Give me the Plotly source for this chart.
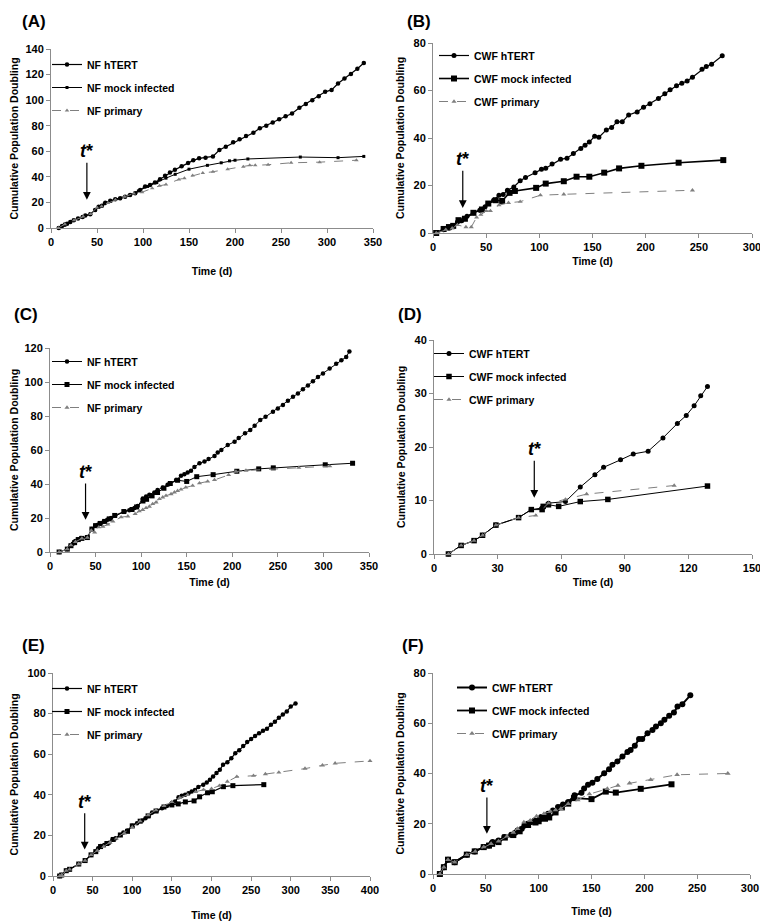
import plotly.graph_objs as go

# ---------------------------------------------------------------- data
# (A) NF
a_htert_x = [8.5, 12, 15, 17.5, 21, 24.7, 29.4, 34.4, 37.3, 42.7, 48, 51.8, 55.4, 59, 64.4, 69.8, 75.2, 80.6, 86, 91.5,
             96.9, 102.3, 107.7, 113, 118.5, 124, 129.3, 134.7, 142, 149, 154.6, 161, 168, 176, 183, 190, 198, 205, 212,
             220, 227, 234, 241, 248, 255, 262, 270, 277, 284, 291, 298, 305, 312, 319, 326, 333, 340]
a_htert_y = [0, 1.6, 2.6, 3.4, 4.7, 6, 7.4, 8.7, 9.7, 10.8, 14, 16.6, 17.4, 19.7, 21.3, 22.4, 23.2, 24.5, 25.8, 27.1,
             29.7, 32.4, 33.7, 35.5, 38.2, 40.8, 43.4, 45.5, 48.2, 50.8, 52.9, 54.5, 55, 56, 61, 63.5, 67, 69.5, 72,
             74.5, 78, 80, 82.5, 85, 87.5, 89.5, 94, 97, 100, 103, 106.5, 108, 113, 117, 120.5, 124.5, 129]
a_mock_x = [8, 15, 25, 35, 43, 48, 52, 58, 65, 75, 85, 95, 105, 115, 125, 135, 150, 170, 185, 194, 200, 214, 271, 312, 340]
a_mock_y = [0, 3, 6, 9, 11, 14, 16.5, 19, 21, 23, 25.5, 29, 32.5, 35.5, 39, 42, 46, 49, 51, 52.5, 53, 54, 55.5, 55, 56]
a_prim_x = [8, 15, 25, 35, 43, 50, 55, 62, 70, 80, 90, 99, 110, 118, 125, 139, 145, 154, 165, 176, 192, 209, 216, 222,
            236, 261, 292, 332]
a_prim_y = [0, 3, 6, 9, 11, 16, 17, 19.5, 22, 24.5, 27, 28, 31, 33, 34, 38, 39, 41, 43, 44, 46, 48, 49, 49, 49.5, 51,
            51.5, 53]

# (B) CWF
b_htert_x = [3, 10, 15, 18, 23, 27, 32, 38, 44, 49, 52, 57, 62, 66, 70, 76, 82, 87, 96, 102, 106, 112, 120, 126, 132,
             139, 143, 147, 152, 156, 163, 168, 173, 178, 184, 192, 198, 204, 212, 218, 223, 229, 234, 239, 244, 253,
             257, 262, 272]
b_htert_y = [0, 1.4, 2, 2.8, 4.6, 5.2, 7, 8.5, 9.6, 11, 12.4, 13.8, 15.9, 16.2, 18, 19.4, 22, 23.4, 25.4, 26.8, 27.3,
             29, 31, 31.5, 33.5, 35.6, 36.9, 38.3, 40.7, 40.3, 43.4, 44.4, 46.8, 46.8, 49.7, 51, 53, 54.4, 56.6, 58.6,
             60.3, 62, 63.1, 64, 65.6, 69, 70.1, 71.1, 74.6]
b_mock_x = [3, 10, 15, 19, 24, 30, 38, 46, 52, 59, 65, 72, 77, 97, 106, 123, 135, 147, 161, 175, 196, 231, 273]
b_mock_y = [0, 1.7, 2.5, 3, 5.4, 6, 8.5, 9.9, 12.4, 13.8, 13.5, 16.9, 17.7, 19, 20.8, 21.8, 23.7, 23.7, 25.4, 27.2,
            28.3, 29.6, 30.7]
b_prim_x = [3, 12, 18, 23, 31, 36, 41, 45, 50, 54, 62, 71, 82, 101, 123, 244]
b_prim_y = [0, 1.4, 2, 3.4, 2.5, 2.5, 6.6, 7.7, 9.3, 9.3, 11.7, 12.7, 13.2, 15.9, 16.3, 18]

# (C) NF
c_htert_x = [10.6, 19, 22.6, 25, 27.7, 30.7, 34, 40.9, 46, 49.6, 52.5, 55.5, 59, 62.8, 67, 71.5, 81.7, 87, 89.8, 92.7,
             96.3, 101.8, 105.4, 109, 114.5, 118, 123.7, 129, 131, 138.3, 143.7, 147.4, 151, 154.7, 158.5, 164, 169.5,
             174, 180.5, 184, 188, 195, 202.5, 207, 214, 219.7, 224.5, 230.7, 236.5, 244.6, 250, 255.6, 261, 266.6,
             272, 277.5, 283, 288.5, 294, 299.5, 306.8, 314, 319.7, 325, 328.5]
c_htert_y = [0, 1.7, 3.7, 4.9, 6.4, 7.4, 8.2, 8.8, 13.5, 15.4, 16, 16.8, 18, 18.9, 20, 21.4, 23.8, 24.6, 25.1, 25.9,
             27, 31.4, 32.6, 33.7, 35, 36.5, 38, 39.6, 40, 42.3, 44.8, 45.8, 46.8, 47.8, 50, 52.2, 53.2, 54.7, 56.5,
             58.5, 60, 62.9, 64.9, 67, 69.8, 71.7, 74.3, 77.6, 79.5, 82.5, 84.4, 86.4, 88.9, 91.3, 93.2, 95.8, 97.9,
             100.4, 103, 105, 107.9, 110.8, 112.8, 114.7, 118]
c_mock_x = [10, 19, 23, 27, 31, 35, 41, 46, 50, 55, 60, 65, 71, 81, 90, 95, 102, 106, 112, 118, 125, 132, 140, 150,
            161, 179, 205, 229, 245, 302, 332]
c_mock_y = [0, 1.7, 3.7, 5.5, 7.3, 8, 8.5, 13.5, 15.5, 16.8, 18, 19.5, 21.5, 23.8, 25, 26.5, 30, 31, 33, 35, 37.5,
            40.3, 42.2, 41.5, 44.3, 45.5, 47.5, 48.9, 49.5, 51.3, 52.2]
c_prim_x = [10, 19, 23, 28, 35, 41, 45.3, 49, 53.6, 58, 63.5, 69, 78, 85.4, 93.4, 98, 101.8, 105.4, 109, 112.7, 116.4,
            120, 123.7, 127.3, 132.8, 136.5, 140, 143.7, 149, 156.5, 164, 173, 180.5, 196, 204, 215, 273, 307]
c_prim_y = [0, 1.7, 4, 6, 8, 8.5, 12.7, 11.5, 14.6, 15, 16.2, 18, 20.5, 21, 22.4, 24, 24.8, 25.9, 26.7, 28.3, 29.2,
            31.2, 32.2, 33.1, 34.1, 35.1, 36, 36.8, 38, 39, 40.5, 41.5, 42.4, 45.3, 47.3, 47.9, 49.6, 50.5]

# (D) CWF
d_htert_x = [6.8, 12.8, 18.9, 22.9, 29.2, 39.9, 45.9, 51, 54, 62, 69, 75.9, 80, 88, 94, 101, 108, 114.8, 119, 122.7,
             125.8, 129]
d_htert_y = [0, 1.6, 2.5, 3.5, 5.4, 6.8, 8.3, 8.6, 9.5, 9.8, 12.5, 14.8, 16.2, 17.6, 18.7, 19.2, 21.7, 24.4, 25.9, 27.7,
             29.6, 31.3]
d_mock_x = [6.8, 12.8, 18.9, 22.9, 29.2, 39.9, 45.9, 51, 51.5, 54, 58.8, 69, 82, 129]
d_mock_y = [0, 1.6, 2.5, 3.5, 5.4, 6.8, 8.3, 8.3, 8.9, 9.2, 8.9, 9.8, 10.2, 12.7]
d_prim_x = [6.8, 12.8, 18.9, 22.9, 29.2, 39.9, 48, 54, 62, 72, 113.3]
d_prim_y = [0, 1.6, 2.5, 3.5, 5.4, 6.8, 7.2, 9.5, 10.2, 11.2, 12.8]

# (E) NF
e_htert_x = [8.4, 11, 16.7, 21, 32.5, 40.5, 48, 54, 57, 60.4, 64.6, 71, 75, 79, 84.6, 88.8, 94, 100, 106, 112.5, 116.7,
             121, 125, 131, 137.5, 143.8, 150, 154, 158.4, 162.5, 166.7, 171, 175, 179.2, 183.4, 189.6, 194, 198, 202,
             206.3, 210.5, 214.6, 220, 225, 230, 235, 240, 245, 250, 255, 260, 265, 270, 275, 280, 285, 290, 295, 300,
             306]
e_htert_y = [0, 0.5, 2.6, 3.3, 5.9, 7.6, 10.4, 12, 13.7, 14.8, 15.3, 16.4, 17.8, 18.6, 20.2, 21.4, 22.4, 24.7, 26, 27.3,
             28.5, 29.6, 31.3, 32.2, 33.4, 34.5, 35.9, 36.7, 38.8, 39.5, 40, 40.8, 41.6, 42.4, 43.8, 44.9, 46, 47.4, 49,
             50.7, 52.3, 54.8, 56, 58, 60.5, 62, 64, 66, 67.5, 69, 70.3, 71.5, 72.5, 74.5, 76, 78, 79.5, 81, 83.5, 85]
e_mock_x = [8.4, 11, 16.7, 21, 32.5, 40.5, 48, 54, 60, 68, 76, 85, 94, 100, 110, 120, 130, 140, 150, 158, 167, 178,
            185, 195, 201, 215, 227, 266]
e_mock_y = [0, 0.5, 2.6, 3.3, 5.9, 7.6, 10.4, 12, 14.5, 16, 18, 20.2, 22, 24.7, 27, 29.6, 32, 34, 35, 35.5, 36.5, 37,
            39, 41, 41.5, 44, 44.5, 45]
e_prim_x = [8.4, 11, 16.7, 21, 32.5, 40.5, 48, 56, 64, 72, 80, 90, 100, 110, 120, 130, 140, 150, 160, 170, 180, 190,
            200, 210, 220, 232, 253, 268, 285, 318, 340, 356, 400]
e_prim_y = [0, 0.5, 2.6, 3.3, 5.9, 7.6, 10.4, 12.5, 14.5, 16.5, 18.5, 21, 24, 27, 30, 32.5, 34.5, 36.5, 38.5, 40, 41.5,
            42.5, 43, 44.5, 46.5, 48.9, 49.4, 50.2, 51, 52.9, 54.5, 55.5, 56.7]

# (F) CWF
f_htert_x = [6.5, 10.3, 14.2, 20.5, 32, 39.5, 48, 53, 56.4, 62, 67.5, 74, 77.7, 80, 84, 86.5, 89.7, 93, 96, 100.8,
             102.4, 109, 113.5, 118.3, 123, 128, 134, 140.5, 143, 146.7, 150.8, 155.5, 162, 166.6, 169.8, 174.5, 179.3,
             184, 187, 191, 195, 198, 203, 207.7, 211, 215.6, 219, 223.5, 228, 231.4, 236, 243.5]
f_htert_y = [0, 2.7, 5.7, 4.7, 7.7, 9, 10.7, 11.3, 12.7, 13.3, 14.7, 15.6, 16.4, 17.3, 18, 19.3, 20, 20.7, 21.3, 21.7,
             22.7, 24, 25.3, 26.7, 27.7, 28.7, 31.3, 32.3, 34, 35.5, 36.3, 37.8, 40.1, 41.7, 43.5, 44.8, 46.8, 48.6,
             49.4, 51, 53.7, 53.7, 56, 57.3, 58.7, 60, 61.4, 63, 64.3, 66.7, 67.6, 71.1]
f_mock_x = [6.5, 10.3, 14.2, 20.5, 32, 39.5, 48, 53, 56, 62, 68, 76, 82, 90, 97, 100, 106, 110, 116, 122, 128, 133.4,
            150, 163.5, 173, 196.6, 225.7]
f_mock_y = [0, 2.7, 5.7, 4.7, 7.7, 9, 10.7, 11.3, 12, 12.7, 14.5, 15.5, 17, 19.5, 20.5, 21, 22, 22.5, 24.5, 26.5, 28,
            30.2, 29.8, 32.8, 32.4, 33.9, 35.7]
f_prim_x = [6.5, 10.3, 14.2, 20.5, 32, 40, 48, 55, 62, 70, 76, 80, 86, 92, 98, 105, 111, 116, 121, 128, 137, 148, 165,
            175, 186, 206, 231, 279]
f_prim_y = [0, 2.7, 5.7, 4.7, 7.7, 9, 10.7, 12, 13, 15, 16.5, 18, 20.6, 21.3, 23, 24, 24.9, 25.5, 26, 28, 29.5, 31.8,
            33.9, 35.2, 36.1, 37.5, 39.5, 40]

# ---------------------------------------------------------------- panels
# page has an 8px body margin, so the figure is 8px smaller and all pixel positions are shifted back by 8
OFF = 8
W, H = 768 - OFF, 924 - OFF
FONT = 'Liberation Sans, Arial, sans-serif'
GREY = '#7f7f7f'


def px(v):
    return (v - OFF) / W


def py(v):
    return 1 - (v - OFF) / H


# label, cell, series, axis ranges, plot box in page pixels (left, right, top, bottom), arrow (x, tip, tail)
panels = [
    dict(tag='(A)', cell='NF', s=[(a_htert_x, a_htert_y), (a_mock_x, a_mock_y), (a_prim_x, a_prim_y)],
         xr=350, xd=50, yr=140, yd=20, box=(51, 373, 49, 228), arrow=(39, 22, 60), lab=(20, 22),
         leg=(47, 50), xts=20, msz=(4.5, 3, 4), lw=(1.2, 1, 1)),
    dict(tag='(B)', cell='CWF', s=[(b_htert_x, b_htert_y), (b_mock_x, b_mock_y), (b_prim_x, b_prim_y)],
         xr=300, xd=50, yr=80, yd=20, box=(433, 752, 43, 233), arrow=(28, 10.5, 31), lab=(405, 22),
         leg=(434, 41), xts=5, msz=(5, 6, 4.5), lw=(1.2, 1.6, 1)),
    dict(tag='(C)', cell='NF', s=[(c_htert_x, c_htert_y), (c_mock_x, c_mock_y), (c_prim_x, c_prim_y)],
         xr=350, xd=50, yr=120, yd=20, box=(50, 369, 348, 552), arrow=(39, 19, 47), lab=(12, 314),
         leg=(47, 347), xts=7, msz=(4.5, 5, 4.5), lw=(1, 1, 1)),
    dict(tag='(D)', cell='CWF', s=[(d_htert_x, d_htert_y), (d_mock_x, d_mock_y), (d_prim_x, d_prim_y)],
         xr=150, xd=30, yr=40, yd=10, box=(434, 752, 340, 554), arrow=(47.3, 10.5, 19.6), lab=(396, 314),
         leg=(429, 339), xts=5, msz=(5, 5.5, 4.5), lw=(1, 1, 1)),
    dict(tag='(E)', cell='NF', s=[(e_htert_x, e_htert_y), (e_mock_x, e_mock_y), (e_prim_x, e_prim_y)],
         xr=400, xd=50, yr=100, yd=20, box=(53, 370, 673, 876), arrow=(40, 13, 36.6), lab=(20, 645),
         leg=(47, 674), xts=16, msz=(4.5, 5, 4.5), lw=(1.2, 1.2, 1)),
    dict(tag='(F)', cell='CWF', s=[(f_htert_x, f_htert_y), (f_mock_x, f_mock_y), (f_prim_x, f_prim_y)],
         xr=300, xd=50, yr=80, yd=20, box=(433, 750, 673, 874), arrow=(51, 16, 35), lab=(400, 645),
         leg=(452, 673), xts=14, msz=(6, 6, 5), lw=(2, 1.8, 1)),
]

names = ['hTERT', 'mock infected', 'primary']
symbols = ['circle', 'square', 'triangle-up']
colors = ['black', 'black', GREY]
dashes = ['solid', 'solid', 'dash']

fig = go.Figure()
layout = {}

for i, p in enumerate(panels):
    n = '' if i == 0 else str(i + 1)
    xa, ya, lg = 'x' + n, 'y' + n, 'legend' + n
    left, right, top, bottom = p['box']

    for k in range(3):
        xs, ys = p['s'][k]
        fig.add_trace(go.Scatter(
            x=xs, y=ys, xaxis=xa, yaxis=ya, legend=lg, legendgroup=f'{i}-{k}',
            name=f"{p['cell']} {names[k]}", mode='lines+markers', cliponaxis=False,
            line=dict(color=colors[k], width=p['lw'][k], dash=dashes[k]),
            marker=dict(symbol=symbols[k], size=p['msz'][k], color=colors[k]),
        ))

    title_font = dict(family=FONT, size=10.5, color='black', weight='bold')
    axis_common = dict(showline=True, linecolor='#8c8c8c', linewidth=1, ticks='outside', ticklen=4,
                       tickcolor='#8c8c8c', showgrid=False, zeroline=False,
                       tickfont=dict(family=FONT, size=11, color='black', weight='bold'))
    layout['xaxis' + n] = dict(axis_common, domain=[px(left), px(right)], anchor=ya, range=[0, p['xr']],
                               dtick=p['xd'], tick0=0,
                               title=dict(text='Time (d)', standoff=p['xts'], font=title_font))
    layout['yaxis' + n] = dict(axis_common, domain=[py(bottom), py(top)], anchor=xa, range=[0, p['yr']],
                               dtick=p['yd'], tick0=0,
                               title=dict(text='Cumulative Population Doubling', standoff=6, font=title_font))
    layout[lg] = dict(x=px(p['leg'][0]), y=py(p['leg'][1]), xanchor='left', yanchor='top',
                      bgcolor='rgba(0,0,0,0)', tracegroupgap=4, itemwidth=30,
                      font=dict(family=FONT, size=10.5, color='black', weight='bold'))

    ax_x, tip, tail = p['arrow']
    fig.add_annotation(x=ax_x, y=tip, ax=ax_x, ay=tail, xref=xa, yref=ya, axref=xa, ayref=ya,
                       text='<b><i>t</i>*</b>', showarrow=True, arrowhead=2, arrowsize=1.3, arrowwidth=1.2,
                       arrowcolor='black', font=dict(family=FONT, size=18, color='black'))
    fig.add_annotation(x=px(p['lab'][0]), y=py(p['lab'][1]), xref='paper', yref='paper',
                       xanchor='left', yanchor='middle', showarrow=False, text='<b>' + p['tag'] + '</b>',
                       font=dict(family=FONT, size=17, color='black'))

fig.update_layout(width=W, height=H, margin=dict(l=0, r=0, t=0, b=0, autoexpand=False), plot_bgcolor='white',
                  paper_bgcolor='white', **layout)

fig.write_html("out.html")
